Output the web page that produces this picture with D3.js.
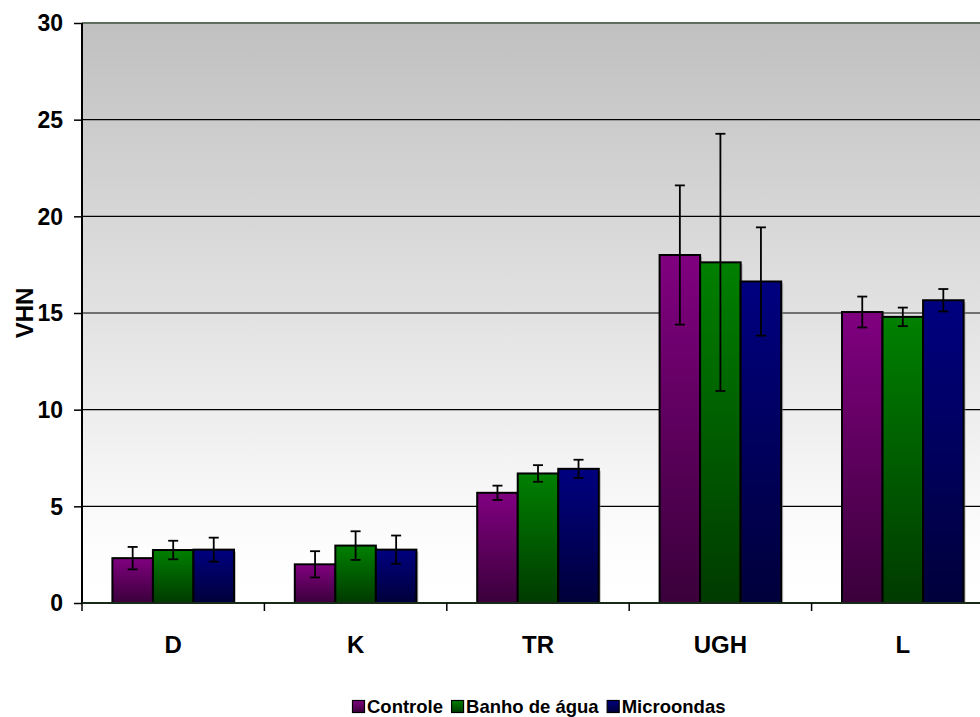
<!DOCTYPE html>
<html>
<head>
<meta charset="utf-8">
<script src="https://cdn.jsdelivr.net/npm/d3@7"></script>
<style>
  body { margin: 0; background: #fff; }
  svg { display: block; font-family: Arial, 'Liberation Sans', sans-serif; font-weight: bold; }
</style>
</head>
<body>
<svg id="chart" width="980" height="717"></svg>
<script>
const categories = ['D', 'K', 'TR', 'UGH', 'L']
const seriesNames = ['Controle', 'Banho de água', 'Microondas']
const controle = [2.32, 2.0, 5.7, 18.0, 15.05]
const controleErr = [0.58, 0.68, 0.37, 3.6, 0.8]
const banho = [2.74, 2.97, 6.7, 17.62, 14.8]
const banhoErr = [0.48, 0.74, 0.43, 6.65, 0.48]
const micro = [2.76, 2.76, 6.94, 16.63, 15.66]
const microErr = [0.62, 0.73, 0.47, 2.8, 0.58]
const yTicks = [0, 5, 10, 15, 20, 25, 30]

const colors = [
  { top: '#800080', bottom: '#3a003a' },
  { top: '#008000', bottom: '#003a00' },
  { top: '#000080', bottom: '#00003a' }
]

const series = [
  { name: seriesNames[0], values: controle, errors: controleErr },
  { name: seriesNames[1], values: banho, errors: banhoErr },
  { name: seriesNames[2], values: micro, errors: microErr }
]

const svg = d3.select('#chart')
const margin = { top: 23, left: 82 }
const plotW = 912
const plotH = 580

const defs = svg.append('defs')
const bg = defs.append('linearGradient').attr('id', 'bg').attr('x1', 0).attr('y1', 0).attr('x2', 0).attr('y2', 1)
bg.append('stop').attr('offset', '0%').attr('stop-color', '#c0c0c0')
bg.append('stop').attr('offset', '90%').attr('stop-color', '#fdfdfd')
bg.append('stop').attr('offset', '100%').attr('stop-color', '#ffffff')

colors.forEach((c, i) => {
  const g = defs.append('linearGradient').attr('id', `bar${i}`).attr('x1', 0).attr('y1', 0).attr('x2', 0).attr('y2', 1)
  g.append('stop').attr('offset', '0%').attr('stop-color', c.top)
  g.append('stop').attr('offset', '100%').attr('stop-color', c.bottom)
})

const g = svg.append('g').attr('transform', `translate(${margin.left},${margin.top})`)

const x0 = d3.scaleBand().domain(categories).range([0, plotW]).paddingInner(1.5 / 4.5).paddingOuter(0.75 / 4.5)
const xOuter = d3.scaleBand().domain(categories).range([0, plotW])
const x1 = d3.scaleBand().domain(seriesNames).range([0, x0.bandwidth()])
const y = d3.scaleLinear().domain([0, 30]).range([plotH, 0])

// plot background
g.append('rect').attr('width', plotW).attr('height', plotH).attr('fill', 'url(#bg)')
g.append('line').attr('x1', 0).attr('x2', plotW).attr('y1', 0).attr('y2', 0)
  .attr('stroke', '#5f6f5f').attr('stroke-width', 2)

// grid
g.append('g').selectAll('line').data(yTicks.filter(t => t > 0 && t < 30)).join('line')
  .attr('x1', 0).attr('x2', plotW)
  .attr('y1', d => y(d)).attr('y2', d => y(d))
  .attr('stroke', '#000').attr('stroke-width', 1.2)

// bars
const groups = g.append('g').selectAll('g').data(series).join('g')
groups.each(function (s, si) {
  const sel = d3.select(this)
  const data = categories.map((c, i) => ({ c, v: s.values[i], e: s.errors[i] }))
  sel.selectAll('rect.shadow').data(data).join('rect').attr('class', 'shadow')
    .attr('x', d => x0(d.c) + x1(s.name) + 2)
    .attr('y', d => y(d.v) + 2)
    .attr('width', x1.bandwidth())
    .attr('height', d => y(0) - y(d.v) - 2)
    .attr('fill', '#888').attr('opacity', 0.5)
  sel.selectAll('rect.bar').data(data).join('rect').attr('class', 'bar')
    .attr('x', d => x0(d.c) + x1(s.name))
    .attr('y', d => y(d.v))
    .attr('width', x1.bandwidth())
    .attr('height', d => y(0) - y(d.v))
    .attr('fill', `url(#bar${si})`)
    .attr('stroke', '#000').attr('stroke-width', 2)
})

// error bars
groups.each(function (s) {
  const sel = d3.select(this)
  const data = categories.map((c, i) => ({ c, v: s.values[i], e: s.errors[i] }))
  const cx = d => x0(d.c) + x1(s.name) + x1.bandwidth() / 2
  const eg = sel.selectAll('g.err').data(data).join('g').attr('class', 'err')
    .attr('stroke', '#000').attr('stroke-width', 1.8)
  eg.append('line').attr('x1', cx).attr('x2', cx)
    .attr('y1', d => y(d.v + d.e)).attr('y2', d => y(d.v - d.e))
  eg.append('line').attr('x1', d => cx(d) - 5).attr('x2', d => cx(d) + 5)
    .attr('y1', d => y(d.v + d.e)).attr('y2', d => y(d.v + d.e))
  eg.append('line').attr('x1', d => cx(d) - 5).attr('x2', d => cx(d) + 5)
    .attr('y1', d => y(d.v - d.e)).attr('y2', d => y(d.v - d.e))
})

// y axis
const yAxis = g.append('g')
  .call(d3.axisLeft(y).tickValues(yTicks).tickSize(8).tickPadding(11))
yAxis.select('.domain').attr('stroke', '#000').attr('stroke-width', 2).attr('d', `M0,0V${plotH}`)
yAxis.selectAll('.tick line').attr('stroke', '#000').attr('stroke-width', 1.5)
yAxis.selectAll('text').attr('font-size', 23).attr('font-weight', 'bold').attr('fill', '#000')
  .attr('font-family', 'Arial, Liberation Sans, sans-serif').attr('dy', '0.34em')

// x axis
const xAxisG = g.append('g').attr('transform', `translate(0,${plotH})`)
xAxisG.append('line').attr('x1', 0).attr('x2', plotW).attr('stroke', '#1a2a1a').attr('stroke-width', 2)
xAxisG.selectAll('line.tick').data(categories.concat(['end'])).join('line').attr('class', 'tick')
  .attr('x1', (d, i) => i * xOuter.bandwidth()).attr('x2', (d, i) => i * xOuter.bandwidth())
  .attr('y1', 0).attr('y2', 8).attr('stroke', '#000').attr('stroke-width', 1.5)
xAxisG.selectAll('text').data(categories).join('text')
  .attr('x', d => xOuter(d) + xOuter.bandwidth() / 2)
  .attr('y', 50)
  .attr('text-anchor', 'middle')
  .attr('font-size', 24)
  .text(d => d)

// y label
svg.append('text')
  .attr('transform', 'translate(33,313) rotate(-90)')
  .attr('text-anchor', 'middle')
  .attr('font-size', 24)
  .text('VHN')

// legend
const legend = svg.append('g').attr('transform', 'translate(352,713)')
let lx = 0
series.forEach((s, i) => {
  const item = legend.append('g').attr('transform', `translate(${lx},0)`)
  item.append('rect').attr('x', 0.5).attr('y', -12.5).attr('width', 12).attr('height', 12)
    .attr('fill', `url(#bar${i})`).attr('stroke', '#000').attr('stroke-width', 1.2)
  const t = item.append('text').attr('x', 15).attr('y', 0).attr('font-size', 18.5).text(s.name)
  lx += 15 + t.node().getComputedTextLength() + 8
})
</script>
</body>
</html>
